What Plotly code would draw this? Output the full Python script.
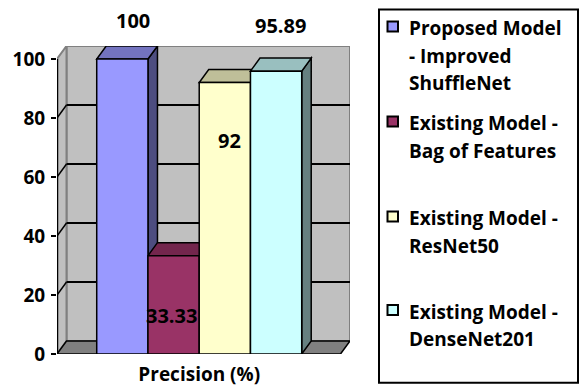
import plotly.graph_objects as go

# ---------------- data ----------------
category = "Precision (%)"
series_names = [
    "Proposed Model - Improved ShuffleNet",
    "Existing Model - Bag of Features",
    "Existing Model - ResNet50",
    "Existing Model - DenseNet201",
]
legend_lines = [
    ["Proposed Model", "- Improved", "ShuffleNet"],
    ["Existing Model -", "Bag of Features"],
    ["Existing Model -", "ResNet50"],
    ["Existing Model -", "DenseNet201"],
]
values = [100, 33.33, 92, 95.89]
y_ticks = [0, 20, 40, 60, 80, 100]

# ---------------- styles ----------------
front_colors = ["#9999FF", "#993366", "#FFFFCC", "#CCFFFF"]
top_colors = ["#7373BF", "#73264D", "#BFBF99", "#99BFBF"]
side_colors = ["#4D4D80", "#4D1A33", "#808066", "#668080"]
FONT = "Open Sans"

W_FIG, H_FIG = 580, 386
L, R, T, B = 57, 230, 46, 32
PW, PH = W_FIG - L - R, H_FIG - T - B
XMIN = -0.775
XPX = 51.25                       # px per bar unit
XMAX = XMIN + PW / XPX
DX = 9.5 / XPX                     # depth offset (x units)
DY = 4.41                          # depth offset (y units)
YMAX = 100 + DY

# data-label placement (data coords)
label_x = [0.708, 1.45, 2.591, 3.577]
label_y = [113.0, 12.9, 72.5, 111.4]


def px(xp):
    return (xp - L) / PW


def py(yp):
    return (H_FIG - B - yp) / PH


def poly(pts):
    return "M" + " L".join(f"{a},{b}" for a, b in pts) + " Z"


fig = go.Figure()
shapes = []

# back wall
shapes.append(dict(type="rect", xref="x", yref="y", x0=XMIN + DX, x1=XMAX, y0=DY, y1=YMAX,
                   fillcolor="#C0C0C0", line=dict(color="#808080", width=2), layer="below"))
# left wall
shapes.append(dict(type="path", xref="x", yref="y",
                   path=poly([(XMIN, 0), (XMIN + DX, DY), (XMIN + DX, YMAX), (XMIN, 100)]),
                   fillcolor="#C0C0C0", line=dict(color="#808080", width=2), layer="below"))
# gridlines on back wall + left wall
for v in y_ticks[1:-1]:
    shapes.append(dict(type="line", xref="x", yref="y", x0=XMIN + DX, x1=XMAX, y0=v + DY, y1=v + DY,
                       line=dict(color="black", width=2), layer="below"))
    shapes.append(dict(type="line", xref="x", yref="y", x0=XMIN, x1=XMIN + DX, y0=v, y1=v + DY,
                       line=dict(color="black", width=1.5), layer="below"))
# floor
shapes.append(dict(type="path", xref="x", yref="y",
                   path=poly([(XMIN, 0), (XMAX - DX, 0), (XMAX, DY), (XMIN + DX, DY)]),
                   fillcolor="#808080", line=dict(color="black", width=1.5), layer="below"))

# 3D faces of the bars (fronts are the bar traces)
for i, v in enumerate(values):
    x0, x1 = i, i + 1
    shapes.append(dict(type="path", xref="x", yref="y",
                       path=poly([(x1, 0), (x1, v), (x1 + DX, v + DY), (x1 + DX, DY)]),
                       fillcolor=side_colors[i], line=dict(color="black", width=1.5), layer="below"))
    shapes.append(dict(type="path", xref="x", yref="y",
                       path=poly([(x0, v), (x1, v), (x1 + DX, v + DY), (x0 + DX, v + DY)]),
                       fillcolor=top_colors[i], line=dict(color="black", width=1.5), layer="below"))

# front value axis line
shapes.append(dict(type="line", xref="x", yref="y", x0=XMIN, x1=XMIN, y0=0, y1=100,
                   line=dict(color="black", width=2.5), layer="above"))

for i, v in enumerate(values):
    fig.add_trace(go.Bar(
        x=[i + 0.5], y=[v], width=[1], name=series_names[i],
        marker=dict(color=front_colors[i], line=dict(color="black", width=1.5)),
        showlegend=False,
    ))

annotations = []
for i, v in enumerate(values):
    annotations.append(dict(x=label_x[i], y=label_y[i] / YMAX, xref="x", yref="paper", text=f"{v:g}",
                            showarrow=False, font=dict(family=FONT, size=20, color="black", weight="bold"),
                            xanchor="center", yanchor="middle"))

# legend (box, swatches, wrapped names)
shapes.append(dict(type="rect", xref="paper", yref="paper", x0=px(379), x1=px(578), y0=py(382.7), y1=py(9.5),
                   line=dict(color="black", width=2), fillcolor="rgba(0,0,0,0)", layer="above"))
item_base = [35, 130, 225, 318.5]
line_gap = 27.5
for i, lines in enumerate(legend_lines):
    b0 = item_base[i]
    shapes.append(dict(type="rect", xref="paper", yref="paper", x0=px(387.5), x1=px(398),
                       y0=py(b0 - 3.5), y1=py(b0 - 13.5),
                       fillcolor=front_colors[i], line=dict(color="black", width=2), layer="above"))
    for k, t in enumerate(lines):
        annotations.append(dict(x=px(407), y=py(b0 + k * line_gap - 7), xref="paper", yref="paper",
                                text=t, showarrow=False, xanchor="left", yanchor="middle",
                                font=dict(family=FONT, size=19, color="black", weight="bold")))

fig.update_layout(
    template="none",
    width=W_FIG, height=H_FIG,
    margin=dict(l=L, r=R, t=T, b=B, pad=0, autoexpand=False),
    paper_bgcolor="white", plot_bgcolor="white",
    barmode="overlay",
    font=dict(family=FONT, color="black", weight="bold"),
    shapes=shapes, annotations=annotations,
    showlegend=False,
    xaxis=dict(range=[XMIN, XMAX], showgrid=False, zeroline=False, showline=False, automargin=False,
               tickvals=[2.0], ticktext=[category], ticks="",
               tickfont=dict(family=FONT, size=19, color="black", weight="bold"),
               ticklabelstandoff=7, fixedrange=True),
    yaxis=dict(range=[0, YMAX], showgrid=False, zeroline=False, showline=False, automargin=False,
               tickvals=y_ticks, ticks="outside", ticklen=5, tickwidth=2, tickcolor="black",
               tickfont=dict(family=FONT, size=19, color="black", weight="bold"),
               ticklabelstandoff=2, fixedrange=True),
)

fig.write_html("out.html")
